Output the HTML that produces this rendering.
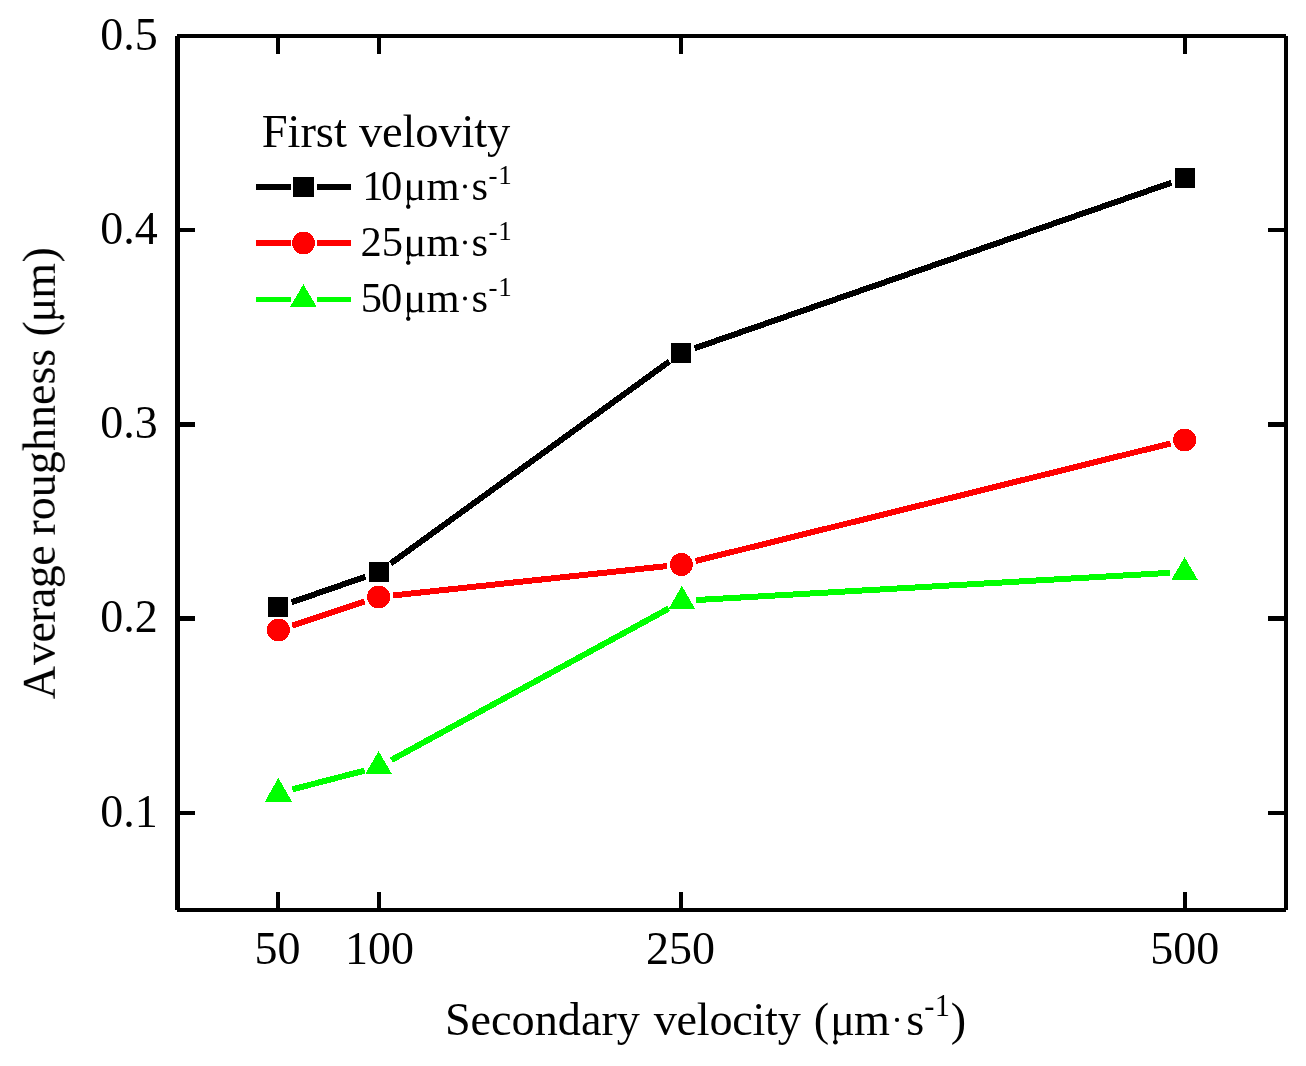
<!DOCTYPE html>
<html><head><meta charset="utf-8"><title>Average roughness vs secondary velocity</title>
<style>html,body{margin:0;padding:0;background:#fff;}body{width:1306px;height:1066px;overflow:hidden;}svg{display:block;}text{font-family:"Liberation Serif",serif;font-kerning:none;font-variant-ligatures:none;}</style>
</head><body>
<svg width="1306" height="1066" viewBox="0 0 1306 1066">
<rect x="0" y="0" width="1306" height="1066" fill="#fff"/>
<g shape-rendering="crispEdges">
<rect x="177" y="34" width="1109" height="4" fill="#000"/>
<rect x="177" y="908" width="1109" height="4" fill="#000"/>
<rect x="175" y="36" width="5" height="874" fill="#000"/>
<rect x="1284" y="36" width="4" height="874" fill="#000"/>
<rect x="276" y="38" width="4" height="16" fill="#000"/>
<rect x="276" y="892" width="4" height="16" fill="#000"/>
<rect x="377" y="38" width="4" height="16" fill="#000"/>
<rect x="377" y="892" width="4" height="16" fill="#000"/>
<rect x="679" y="38" width="4" height="16" fill="#000"/>
<rect x="679" y="892" width="4" height="16" fill="#000"/>
<rect x="1183" y="38" width="4" height="16" fill="#000"/>
<rect x="1183" y="892" width="4" height="16" fill="#000"/>
<rect x="180" y="228" width="15" height="4" fill="#000"/>
<rect x="1268" y="228" width="16" height="4" fill="#000"/>
<rect x="180" y="422" width="15" height="5" fill="#000"/>
<rect x="1268" y="422" width="16" height="5" fill="#000"/>
<rect x="180" y="616" width="15" height="5" fill="#000"/>
<rect x="1268" y="616" width="16" height="5" fill="#000"/>
<rect x="180" y="811" width="15" height="4" fill="#000"/>
<rect x="1268" y="811" width="16" height="4" fill="#000"/>
<line x1="291.70" y1="602.25" x2="365.30" y2="576.75" stroke="#000" stroke-width="6"/>
<line x1="390.74" y1="563.49" x2="669.26" y2="361.51" stroke="#000" stroke-width="6"/>
<line x1="694.70" y1="348.24" x2="1171.30" y2="182.76" stroke="#000" stroke-width="6"/>
<line x1="292.17" y1="625.46" x2="364.83" y2="601.54" stroke="#f00" stroke-width="6"/>
<line x1="393.02" y1="595.45" x2="666.98" y2="566.05" stroke="#f00" stroke-width="6"/>
<line x1="695.48" y1="561.02" x2="1170.52" y2="443.48" stroke="#f00" stroke-width="6"/>
<line x1="292.44" y1="789.36" x2="364.56" y2="770.64" stroke="#0f0" stroke-width="6"/>
<line x1="391.33" y1="760.05" x2="668.67" y2="608.55" stroke="#0f0" stroke-width="6"/>
<line x1="695.88" y1="600.07" x2="1170.12" y2="572.83" stroke="#0f0" stroke-width="6"/>
<rect x="268" y="597" width="20" height="20" fill="#000"/>
<rect x="369" y="562" width="20" height="20" fill="#000"/>
<rect x="671" y="343" width="20" height="20" fill="#000"/>
<rect x="1175" y="168" width="20" height="20" fill="#000"/>
<circle cx="278.4" cy="630" r="11.5" fill="#f00"/>
<circle cx="378.6" cy="597" r="11.5" fill="#f00"/>
<circle cx="681.4" cy="564.5" r="11.5" fill="#f00"/>
<circle cx="1184.6" cy="440" r="11.5" fill="#f00"/>
<polygon points="278.4,777.8 292.0,801.8 264.8,801.8" fill="#0f0"/>
<polygon points="378.60,751.20 392.20,774.40 365.00,774.40" fill="#0f0"/>
<polygon points="681.90,585.75 695.20,608.95 668.60,608.95" fill="#0f0"/>
<polygon points="1184.60,557.20 1198.20,580.40 1171.00,580.40" fill="#0f0"/>
<rect x="256" y="184" width="35" height="6" fill="#000"/>
<rect x="317" y="184" width="34" height="6" fill="#000"/>
<rect x="293" y="177" width="21" height="20" fill="#000"/>
<rect x="256" y="240" width="35" height="6" fill="#f00"/>
<rect x="317" y="240" width="34" height="6" fill="#f00"/>
<circle cx="303.5" cy="243" r="11.4" fill="#f00"/>
<rect x="256" y="297" width="35" height="5" fill="#0f0"/>
<rect x="317" y="297" width="34" height="5" fill="#0f0"/>
<polygon points="303.40,284.20 317.00,307.40 289.80,307.40" fill="#0f0"/>
</g>
<g fill="#000" opacity="0.999">
<text x="157.80" y="49.70" font-size="46" text-anchor="end">0.5</text>
<text x="157.80" y="243.70" font-size="46" text-anchor="end">0.4</text>
<text x="157.80" y="438.10" font-size="46" text-anchor="end">0.3</text>
<text x="157.80" y="632.30" font-size="46" text-anchor="end">0.2</text>
<text x="157.80" y="826.60" font-size="46" text-anchor="end">0.1</text>
<text x="277.60" y="963.80" font-size="46" text-anchor="middle">50</text>
<text x="379.40" y="963.80" font-size="46" text-anchor="middle">100</text>
<text x="680.60" y="963.80" font-size="46" text-anchor="middle">250</text>
<text x="1184.80" y="963.80" font-size="46" text-anchor="middle">500</text>
<text x="261.66" y="147.30" font-size="46.5" textLength="85.21" lengthAdjust="spacing">First</text>
<text x="358.90" y="147.30" font-size="46.5" textLength="151.38" lengthAdjust="spacing">velovity</text>
<text x="362.26" y="200.10" font-size="42.5">1</text>
<text x="380.98" y="200.10" font-size="42.5">0</text>
<path transform="translate(403.56,200.10) scale(0.02075,-0.02075)" d="M895,940 L895,70 L1014,45 L1014,0 L740,0 L732,86 Q578,-20 465,-20 Q386,-20 332,27 L332,40 L268,-25 L268,-214 A106,106 0 1 0 186,-214 L186,-25 L166,40 L166,940 L332,940 L332,268 Q332,96 498,96 Q604,96 730,141 L730,940 Z"/>
<text x="426.41" y="200.10" font-size="42.5">m</text>
<circle cx="465" cy="186.4" r="2.0"/>
<text x="471.46" y="200.10" font-size="42.5">s</text>
<text x="488.40" y="183.80" font-size="27" textLength="8.48" lengthAdjust="spacing">-</text>
<text x="498.23" y="183.80" font-size="27">1</text>
<text x="360.53" y="256.20" font-size="42.5">2</text>
<text x="381.83" y="256.20" font-size="42.5">5</text>
<path transform="translate(403.56,256.20) scale(0.02075,-0.02075)" d="M895,940 L895,70 L1014,45 L1014,0 L740,0 L732,86 Q578,-20 465,-20 Q386,-20 332,27 L332,40 L268,-25 L268,-214 A106,106 0 1 0 186,-214 L186,-25 L166,40 L166,940 L332,940 L332,268 Q332,96 498,96 Q604,96 730,141 L730,940 Z"/>
<text x="426.41" y="256.20" font-size="42.5">m</text>
<circle cx="465" cy="242.5" r="2.0"/>
<text x="471.46" y="256.20" font-size="42.5">s</text>
<text x="488.40" y="239.90" font-size="27" textLength="8.48" lengthAdjust="spacing">-</text>
<text x="498.23" y="239.90" font-size="27">1</text>
<text x="360.73" y="312.20" font-size="42.5">5</text>
<text x="381.08" y="312.20" font-size="42.5">0</text>
<path transform="translate(403.56,312.20) scale(0.02075,-0.02075)" d="M895,940 L895,70 L1014,45 L1014,0 L740,0 L732,86 Q578,-20 465,-20 Q386,-20 332,27 L332,40 L268,-25 L268,-214 A106,106 0 1 0 186,-214 L186,-25 L166,40 L166,940 L332,940 L332,268 Q332,96 498,96 Q604,96 730,141 L730,940 Z"/>
<text x="426.41" y="312.20" font-size="42.5">m</text>
<circle cx="465" cy="298.5" r="2.0"/>
<text x="471.46" y="312.20" font-size="42.5">s</text>
<text x="488.40" y="295.90" font-size="27" textLength="8.48" lengthAdjust="spacing">-</text>
<text x="498.23" y="295.90" font-size="27">1</text>
<text x="444.91" y="1035.10" font-size="46.2" textLength="194.97" lengthAdjust="spacing">Secondary</text>
<text x="653.70" y="1035.10" font-size="46.2" textLength="147.08" lengthAdjust="spacing">velocity</text>
<text x="813.87" y="1035.10" font-size="46.2">(</text>
<path transform="translate(830.26,1035.10) scale(0.02256,-0.02256)" d="M895,940 L895,70 L1014,45 L1014,0 L740,0 L732,86 Q578,-20 465,-20 Q386,-20 332,27 L332,40 L268,-25 L268,-214 A106,106 0 1 0 186,-214 L186,-25 L166,40 L166,940 L332,940 L332,268 Q332,96 498,96 Q604,96 730,141 L730,940 Z"/>
<text x="854.03" y="1035.10" font-size="46.2">m</text>
<circle cx="897" cy="1019.8999999999999" r="2.1"/>
<text x="906.21" y="1035.10" font-size="46.2">s</text>
<text x="924.17" y="1016.30" font-size="30.5" textLength="9.53" lengthAdjust="spacing">-</text>
<text x="934.72" y="1016.30" font-size="30.5">1</text>
<text x="950.71" y="1035.10" font-size="46.2">)</text>
<g transform="translate(54.8,0) rotate(-90)">
<text x="-699.15" y="0.00" font-size="46.0">A</text>
<text x="-665.00" y="0.00" font-size="46.0" textLength="119.69" lengthAdjust="spacing">verage</text>
<text x="-535.62" y="0.00" font-size="46.0" textLength="186.88" lengthAdjust="spacing">roughness</text>
<text x="-336.62" y="0.00" font-size="46.0">(</text>
<path transform="translate(-322.33,0.00) scale(0.02246,-0.02246)" d="M895,940 L895,70 L1014,45 L1014,0 L740,0 L732,86 Q578,-20 465,-20 Q386,-20 332,27 L332,40 L268,-25 L268,-214 A106,106 0 1 0 186,-214 L186,-25 L166,40 L166,940 L332,940 L332,268 Q332,96 498,96 Q604,96 730,141 L730,940 Z"/>
<text x="-298.77" y="0.00" font-size="46.0">m</text>
<text x="-262.48" y="0.00" font-size="46.0">)</text>
</g>
</g>
</svg></body></html>
